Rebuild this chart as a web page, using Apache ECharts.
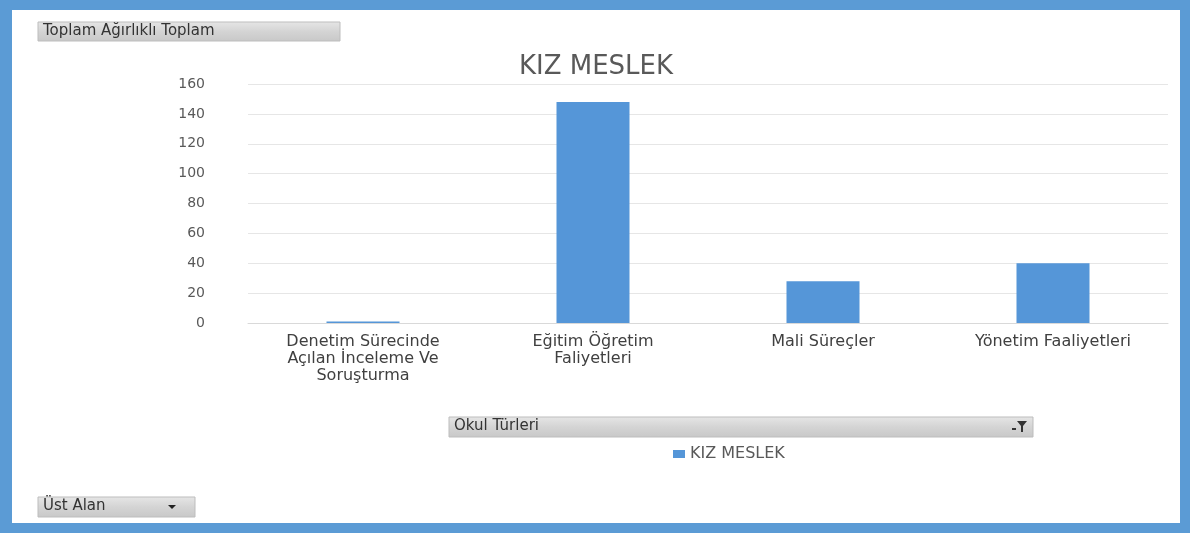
<!DOCTYPE html>
<html><head><meta charset="utf-8">
<script src="https://cdn.jsdelivr.net/npm/echarts@6/dist/echarts.min.js"></script>
<style>
html,body{margin:0;padding:0;width:1190px;height:533px;background:#5b9bd5;overflow:hidden;}
#c{position:absolute;left:12px;top:10px;width:1168px;height:513px;background:#fff;}
</style></head><body>
<div id="c"></div>
<script>
var categories = ['Denetim Sürecinde\nAçılan İnceleme Ve\nSoruşturma', 'Eğitim Öğretim\nFaliyetleri', 'Mali Süreçler', 'Yönetim Faaliyetleri'];
var seriesName = 'KIZ MESLEK';
var values = [1, 148, 28, 40];
var yTicks = { min: 0, max: 160, interval: 20 };

var chart = echarts.init(document.getElementById('c'));
var FONT = 'DejaVu Sans';
function button(x, y, w, h, label, icon) {
  var els = [{
    type: 'rect', shape: { x: x, y: y, width: w, height: h },
    style: { fill: new echarts.graphic.LinearGradient(0, 0, 0, 1, [{offset:0,color:'#e6e6e6'},{offset:0.5,color:'#d4d4d4'},{offset:1,color:'#c8c8c8'}]), stroke: '#bdbdbd', lineWidth: 1 }
  }, {
    type: 'text', left: x + 5, top: y + 2,
    style: { text: label, font: '15px ' + FONT, fill: '#333' }
  }];
  if (icon === 'filter') {
    els.push({ type: 'polygon', shape: { points: [[x+w-16,y+4],[x+w-6,y+4],[x+w-10,y+9],[x+w-10,y+15],[x+w-12,y+15],[x+w-12,y+9]] }, style: { fill: '#333' } });
    els.push({ type: 'rect', shape: { x: x+w-21, y: y+11, width: 4, height: 2 }, style: { fill: '#333' } });
  } else if (icon === 'arrow') {
    els.push({ type: 'polygon', shape: { points: [[x+w-27,y+8],[x+w-19,y+8],[x+w-23,y+12]] }, style: { fill: '#222' } });
  }
  return els;
}
var g = [].concat(
  button(26, 12, 302, 19, 'Toplam Ağırlıklı Toplam'),
  button(437, 407, 584, 20, 'Okul Türleri', 'filter'),
  button(26, 487, 157, 20, 'Üst Alan', 'arrow')
);

chart.setOption({
  animation: false,
  textStyle: { fontFamily: FONT },
  title: { text: 'KIZ MESLEK', left: 'center', top: 39, textStyle: { fontFamily: FONT, fontSize: 26, fontWeight: 'normal', color: '#595959' } },
  grid: { left: 236, right: 12, top: 74, bottom: 200 },
  legend: { data: [seriesName], left: 656, top: 431, itemWidth: 12, itemHeight: 8, icon: 'rect', textStyle: { fontFamily: FONT, fontSize: 16, color: '#595959' } },
  xAxis: {
    type: 'category', data: categories,
    axisLine: { lineStyle: { color: '#d9d9d9' } }, axisTick: { show: false },
    axisLabel: { interval: 0, margin: 10, fontFamily: FONT, fontSize: 16, lineHeight: 17, color: '#404040' }
  },
  yAxis: {
    type: 'value', min: yTicks.min, max: yTicks.max, interval: yTicks.interval,
    axisLine: { show: false }, axisTick: { show: false },
    axisLabel: { margin: 43, fontFamily: FONT, fontSize: 14, color: '#595959' },
    splitLine: { lineStyle: { color: '#e6e6e6' } }
  },
  series: [{ name: seriesName, type: 'bar', data: values, barWidth: 73, itemStyle: { color: '#5596d8' } }],
  graphic: g
});
</script></body></html>
